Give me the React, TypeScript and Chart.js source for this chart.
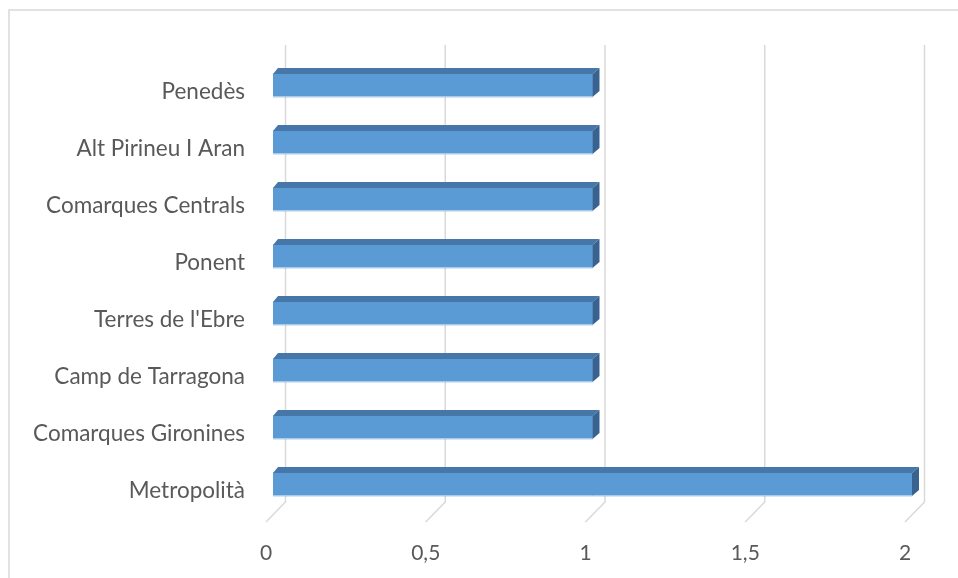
import React, { useEffect, useRef } from "react";
import { Chart, registerables } from "chart.js";

Chart.register(...registerables);

// Regions, listed top to bottom as they appear on the chart
const regions = [
  "Penedès",
  "Alt Pirineu I Aran",
  "Comarques Centrals",
  "Ponent",
  "Terres de l'Ebre",
  "Camp de Tarragona",
  "Comarques Gironines",
  "Metropolità",
];
const regionValues = [1, 1, 1, 1, 1, 1, 1, 2];
const axisMin = 0;
const axisMax = 2;
const axisStep = 0.5;

const FONT = "Lato, 'Open Sans', sans-serif";
const TEXT = "#595959";
const GRID = "#D9D9D9";
const FRONT = "#5B9BD5";
const TOP = "#4677A8";
const SIDE = "#386390";

// Depth of the pseudo-3D box: back wall offset and bar depth
const WALL_BACK = 12.5;
const FLOOR_FRONT = -7;
const BAR_DX = 7;
const BAR_DY = 6;

const depthPlugin = {
  id: "depth3d",
  beforeDatasetsDraw(chart: any) {
    const { ctx, chartArea, scales } = chart;
    const x = scales.x;
    ctx.save();
    // outer frame
    ctx.strokeStyle = GRID;
    ctx.lineWidth = 1.5;
    ctx.beginPath();
    ctx.moveTo(9, chart.height + 2);
    ctx.lineTo(9, 10);
    ctx.lineTo(chart.width + 2, 10);
    ctx.stroke();

    // back-wall gridlines running into the floor
    const topY = chartArea.top - 12;
    const bendY = chartArea.bottom - 11;
    const frontY = chartArea.bottom + 9;
    ctx.lineWidth = 1.5;
    for (let v = axisMin; v <= axisMax + 1e-9; v += axisStep) {
      const px = x.getPixelForValue(v);
      ctx.beginPath();
      ctx.moveTo(px + WALL_BACK, topY);
      ctx.lineTo(px + WALL_BACK, bendY);
      ctx.lineTo(px + FLOOR_FRONT, frontY);
      ctx.stroke();
    }
    ctx.restore();
  },
  afterDatasetsDraw(chart: any) {
    const { ctx } = chart;
    const meta = chart.getDatasetMeta(0);
    ctx.save();
    meta.data.forEach((bar: any) => {
      const { x, y, base, height } = bar.getProps(["x", "y", "base", "height"], true);
      const top = y - height / 2;
      const bottom = y + height / 2;
      // top face
      ctx.fillStyle = TOP;
      ctx.beginPath();
      ctx.moveTo(base, top);
      ctx.lineTo(x, top);
      ctx.lineTo(x + BAR_DX, top - BAR_DY);
      ctx.lineTo(base + BAR_DX - 2, top - BAR_DY);
      ctx.closePath();
      ctx.fill();
      // end face
      ctx.fillStyle = SIDE;
      ctx.beginPath();
      ctx.moveTo(x, top);
      ctx.lineTo(x + BAR_DX, top - BAR_DY);
      ctx.lineTo(x + BAR_DX, bottom - BAR_DY);
      ctx.lineTo(x, bottom);
      ctx.closePath();
      ctx.fill();
      // light lower edge of the front face
      ctx.strokeStyle = "#A9CBEB";
      ctx.lineWidth = 1;
      ctx.beginPath();
      ctx.moveTo(base, bottom - 0.5);
      ctx.lineTo(x, bottom - 0.5);
      ctx.stroke();
    });
    ctx.restore();
  },
};

export default function App() {
  const canvasRef = useRef<HTMLCanvasElement | null>(null);

  useEffect(() => {
    const canvas = canvasRef.current;
    if (!canvas) return;
    const chart = new Chart(canvas, {
      type: "bar",
      data: {
        labels: regions,
        datasets: [
          {
            data: regionValues,
            backgroundColor: FRONT,
            borderWidth: 0,
            barThickness: 23,
          },
        ],
      },
      options: {
        indexAxis: "y",
        animation: false,
        responsive: false,
        maintainAspectRatio: false,
        layout: { padding: { left: 0, top: 57, right: 46, bottom: 0 } },
        plugins: {
          legend: { display: false },
          tooltip: { enabled: false },
        },
        scales: {
          x: {
            min: axisMin,
            max: axisMax,
            grid: { display: false, drawTicks: false },
            border: { display: false },
            ticks: {
              stepSize: axisStep,
              padding: 28,
              labelOffset: -7,
              color: TEXT,
              font: { family: FONT, size: 21 },
              callback: (v: any) => String(v).replace(".", ","),
            },
            afterFit: (s: any) => {
              s.height = 65;
            },
          },
          y: {
            grid: { display: false, drawTicks: false },
            border: { display: false },
            ticks: {
              padding: 28,
              labelOffset: 6,
              color: TEXT,
              font: { family: FONT, size: 22.5 },
            },
            afterFit: (s: any) => {
              s.width = 273;
            },
          },
        },
      },
      plugins: [depthPlugin],
    });
    return () => chart.destroy();
  }, []);

  return (
    <div style={{ position: "fixed", left: 0, top: 0, width: 958, height: 578, background: "#fff" }}>
      <canvas ref={canvasRef} width={958} height={578} style={{ display: "block" }} />
    </div>
  );
}
